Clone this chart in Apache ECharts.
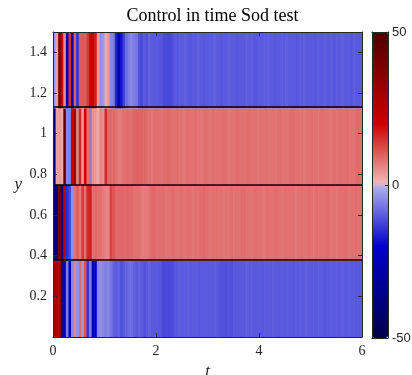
<!DOCTYPE html>
<html><head><meta charset="utf-8">
<script src="https://cdn.jsdelivr.net/npm/echarts@6/dist/echarts.min.js"></script>
<style>html,body{margin:0;padding:0;background:#fff}#c{width:412px;height:375px}</style>
</head><body><div id="c"></div>
<script>
// ---- data ----
const titleText = 'Control in time Sod test';
const timeStep = 0.05;               // sampling step of the control in t
const bandEdges = [0, 0.375, 0.75, 1.125, 1.5];
const lineEdges = [0.375, 0.75, 1.125];
const xTicks = [0, 2, 4, 6];
const yTickLabels = ['0.2', '0.4', '0.6', '0.8', '1', '1.2', '1.4'];
const colorbarTicks = [-50, 0, 50];

// band y 0 - 0.375
const band1 = [30, 28, 25, -38, -22, -6, -24, -5, 6, -4, 9, -3, 11, -14, -6, -24, -20, -5, -4, -5,
  -6, -5, -7, -9, -10, -9, -11, -10, -9, -8, -8, -9, -10, -9, -10, -11, -10, -9, -10, -10,
  -10, -10.5, -12, -12, -12, -12, -11.5, -10.5, -10, -10,
  -10, -10, -9.5, -10, -10, -10, -10.5, -10, -10, -10,
  -10, -10, -10, -10, -10.5, -11, -11, -11, -11, -11,
  -10.5, -10, -10, -10, -10, -9.5, -10, -10, -10, -10,
  -10, -10.5, -10, -10, -10, -9.5, -10, -10, -10, -10,
  -10, -10, -10, -10.5, -10, -10, -10, -10, -9.5, -10,
  -10, -10, -10, -10, -10, -10.5, -10, -10, -10, -10,
  -10, -10, -9.5, -10, -10, -10, -10, -10.5, -10, -10];
// band y 0.375 - 0.75
const band2 = [-45, -40, 40, -35, 22, -15, -12, -4, 8, 10, 7, 14, 8, 16, 17, 8, 9, 8, 8, 7,
  6, 6, 13, 11, 9, 9, 9, 9, 9, 9, 9, 8, 8, 8, 7, 7, 7, 8, 9, 9,
  8, 8.5, 8.5, 8, 8, 8, 8.5, 8, 8, 8.5,
  8, 8, 8.5, 8, 7.5, 8, 8, 8.5, 9, 8.5,
  8, 8, 8, 8.5, 8, 8, 7.5, 8, 8, 8.5,
  8, 8, 8, 8.5, 8.5, 8, 8, 8, 8.5, 8,
  8, 7.5, 8, 8.5, 8, 8, 8.5, 8, 8, 8,
  8.5, 8, 8, 8, 7.5, 8, 8.5, 8, 8, 8.5,
  8, 8, 8.5, 8, 8, 8, 8.5, 8, 8, 8,
  7.5, 8, 8, 8.5, 8, 8, 8, 8.5, 8, 8];
// band y 0.75 - 1.125
const band3 = [-45, 3, 4, 2, 45, -5, -6, 20, 28, 6, 16, 4, 20, 8, -6, 5, 4, 2, 6, 5,
  16, 9, 9, 9, 8, 7, 7, 8, 8.5, 8.5, 8.5, 9, 9.5, 9.5, 9.5, 9, 8.5, 8, 7.5, 8.5,
  8.5, 8, 8, 8.5, 9, 8.5, 8, 8, 8.5, 8,
  7.5, 8, 8.5, 8, 8, 8.5, 8, 7.5, 8, 8.5,
  8, 8, 8.5, 8, 8, 8, 8.5, 8, 7.5, 8,
  8, 8.5, 8, 8, 8, 8.5, 8.5, 8, 8, 7.5,
  8, 8, 8.5, 8, 8, 8, 7.5, 8, 8.5, 8,
  8, 8, 8.5, 8.5, 8, 8, 8, 7.5, 8, 8,
  8.5, 8, 8, 8, 8.5, 8, 8, 7.5, 8, 8,
  8, 8.5, 8, 8, 8.5, 8, 8, 8.5, 9, 8.5];
// band y 1.125 - 1.5
const band4 = [-3, 3, 40, 22, 5, -20, 15, -25, 10, -15, 10, 11, 10, 14, 20, 22, 17, 3, -4, -3,
  2, 4, -5, -6, -16, -22, -18, -13, -8, -6, -5, -6, -7, -11, -12, -10, -11, -9, -10, -10,
  -10, -10.5, -11, -12, -12, -12, -11, -10, -10.5, -10,
  -10, -9.5, -10, -10.5, -10, -10, -9.5, -10, -10.5, -10,
  -10, -10, -9.5, -10, -10, -10.5, -10, -10, -9.5, -10,
  -10, -10.5, -10, -10, -10, -9.5, -10, -10, -10.5, -10,
  -10, -10, -10, -9.5, -10, -10, -10.5, -10, -10, -10,
  -9.5, -10, -10, -10, -10.5, -10, -10, -9.5, -10, -10,
  -10, -10.5, -10, -10, -10, -9.5, -10, -10, -10, -10.5,
  -10, -10, -9.5, -10, -10, -10.5, -10, -10, -10, -10];

// ---- colormap (blue -> light | light -> red) ----
const cmapAnchors = [[-50, [0, 0, 77]], [-20, [0, 0, 204]], [-0.5, [176, 176, 240]],
  [0.5, [240, 184, 184]], [20, [204, 0, 0]], [50, [77, 0, 0]]];
function cmapAt(v) {
  for (let k = 0; k < cmapAnchors.length - 1; k++) {
    const [a, ca] = cmapAnchors[k], [b, cb] = cmapAnchors[k + 1];
    if (v <= b || k === cmapAnchors.length - 2) {
      const f = Math.max(0, Math.min(1, (v - a) / (b - a)));
      const c = ca.map((x, j) => Math.round(x + (cb[j] - x) * f));
      return 'rgb(' + c.join(',') + ')';
    }
  }
}
const cmapColors = [];
for (let v = -50; v <= 50; v++) cmapColors.push(cmapAt(v));

// ---- build cells ----
const bands = [band1, band2, band3, band4];
const cells = [];
bands.forEach((vals, b) => vals.forEach((v, i) =>
  cells.push([i * timeStep, (i + 1) * timeStep, bandEdges[b], bandEdges[b + 1], v])));

const serif = 'Liberation Serif';
const sans = 'Liberation Sans';
const ink = '#262626';

const chart = echarts.init(document.getElementById('c'), null, {renderer: 'canvas'});
chart.setOption({
  animation: false,
  backgroundColor: '#fff',
  title: {
    text: titleText, left: 207.5, top: 2, textAlign: 'center',
    textStyle: {fontFamily: serif, fontWeight: 'normal', fontSize: 18, color: '#000'}
  },
  grid: [
    {left: 53, right: 50, top: 32, bottom: 38, containLabel: false, outerBoundsMode: 'none'},
    {left: 372, width: 16, top: 32, bottom: 37, containLabel: false, outerBoundsMode: 'none'}
  ],
  xAxis: [
    {gridIndex: 0, type: 'value', min: xTicks[0], max: xTicks[xTicks.length - 1], interval: 2, position: 'bottom', z: 5,
      axisLine: {show: true, onZero: false, lineStyle: {color: ink}},
      axisTick: {show: true, inside: true, length: 4, lineStyle: {color: ink}},
      axisLabel: {fontFamily: serif, fontSize: 14, color: ink, margin: 7},
      splitLine: {show: false},
      name: 't', nameLocation: 'middle', nameGap: 24,
      nameTextStyle: {fontFamily: serif, fontStyle: 'italic', fontSize: 17, color: ink}},
    {gridIndex: 0, type: 'value', min: 0, max: 6, interval: 2, position: 'top', z: 5,
      axisLine: {show: true, onZero: false, lineStyle: {color: ink}},
      axisTick: {show: true, inside: true, length: 4, lineStyle: {color: ink}},
      axisLabel: {show: false}, splitLine: {show: false}},
    {gridIndex: 1, type: 'value', min: 0, max: 1, position: 'bottom', z: 10,
      axisLine: {show: true, onZero: false, lineStyle: {color: ink}},
      axisTick: {show: false}, axisLabel: {show: false}, splitLine: {show: false}},
    {gridIndex: 1, type: 'value', min: 0, max: 1, position: 'top', z: 10,
      axisLine: {show: true, onZero: false, lineStyle: {color: ink}},
      axisTick: {show: false}, axisLabel: {show: false}, splitLine: {show: false}}
  ],
  yAxis: [
    {gridIndex: 0, type: 'value', min: bandEdges[0], max: bandEdges[bandEdges.length - 1], interval: 0.2, position: 'left', z: 5,
      axisLine: {show: true, onZero: false, lineStyle: {color: ink}},
      axisTick: {show: true, inside: true, length: 4, lineStyle: {color: ink}},
      axisLabel: {fontFamily: serif, fontSize: 14, color: ink, margin: 6,
        formatter: v => { const s = String(+v.toFixed(1)); return yTickLabels.includes(s) ? s : ''; }},
      splitLine: {show: false},
      name: 'y', nameLocation: 'middle', nameGap: 31, nameRotate: 0,
      nameTextStyle: {fontFamily: serif, fontStyle: 'italic', fontSize: 17, color: ink, verticalAlign: 'middle'}},
    {gridIndex: 0, type: 'value', min: 0, max: 1.5, interval: 0.2, position: 'right', z: 5,
      axisLine: {show: true, onZero: false, lineStyle: {color: ink}},
      axisTick: {show: true, inside: true, length: 4, lineStyle: {color: ink}},
      axisLabel: {show: false}, splitLine: {show: false}},
    {gridIndex: 1, type: 'value', min: colorbarTicks[0], max: colorbarTicks[2], interval: 50, position: 'right', z: 10,
      axisLine: {show: true, onZero: false, lineStyle: {color: ink}},
      axisTick: {show: true, inside: true, length: 3, lineStyle: {color: ink}},
      axisLabel: {fontFamily: sans, fontSize: 13, color: ink, margin: 4},
      splitLine: {show: false}},
    {gridIndex: 1, type: 'value', min: -50, max: 50, position: 'left', z: 10,
      axisLine: {show: true, onZero: false, lineStyle: {color: ink}},
      axisTick: {show: false}, axisLabel: {show: false}, splitLine: {show: false}}
  ],
  visualMap: {
    type: 'continuous', min: colorbarTicks[0], max: colorbarTicks[2], dimension: 4, seriesIndex: 0,
    calculable: false, orient: 'vertical', left: 372, top: 32, padding: 0,
    itemWidth: 16, itemHeight: 306, text: null, showLabel: false,
    inRange: {color: cmapColors}
  },
  series: [{
    type: 'custom', xAxisIndex: 0, yAxisIndex: 0, clip: true,
    encode: {x: [0, 1], y: [2, 3]},
    data: cells,
    renderItem: (params, api) => {
      const p0 = api.coord([api.value(0), api.value(3)]);
      const p1 = api.coord([api.value(1), api.value(2)]);
      return {type: 'rect',
        shape: {x: p0[0], y: p0[1], width: p1[0] - p0[0] + 0.6, height: p1[1] - p0[1]},
        style: {fill: api.visual('color')}};
    },
    markLine: {
      silent: true, symbol: 'none', label: {show: false}, animation: false,
      lineStyle: {color: '#000', width: 1.5, type: 'solid'},
      data: lineEdges.map(v => ({yAxis: v}))
    }
  }]
});
</script>
</body></html>
